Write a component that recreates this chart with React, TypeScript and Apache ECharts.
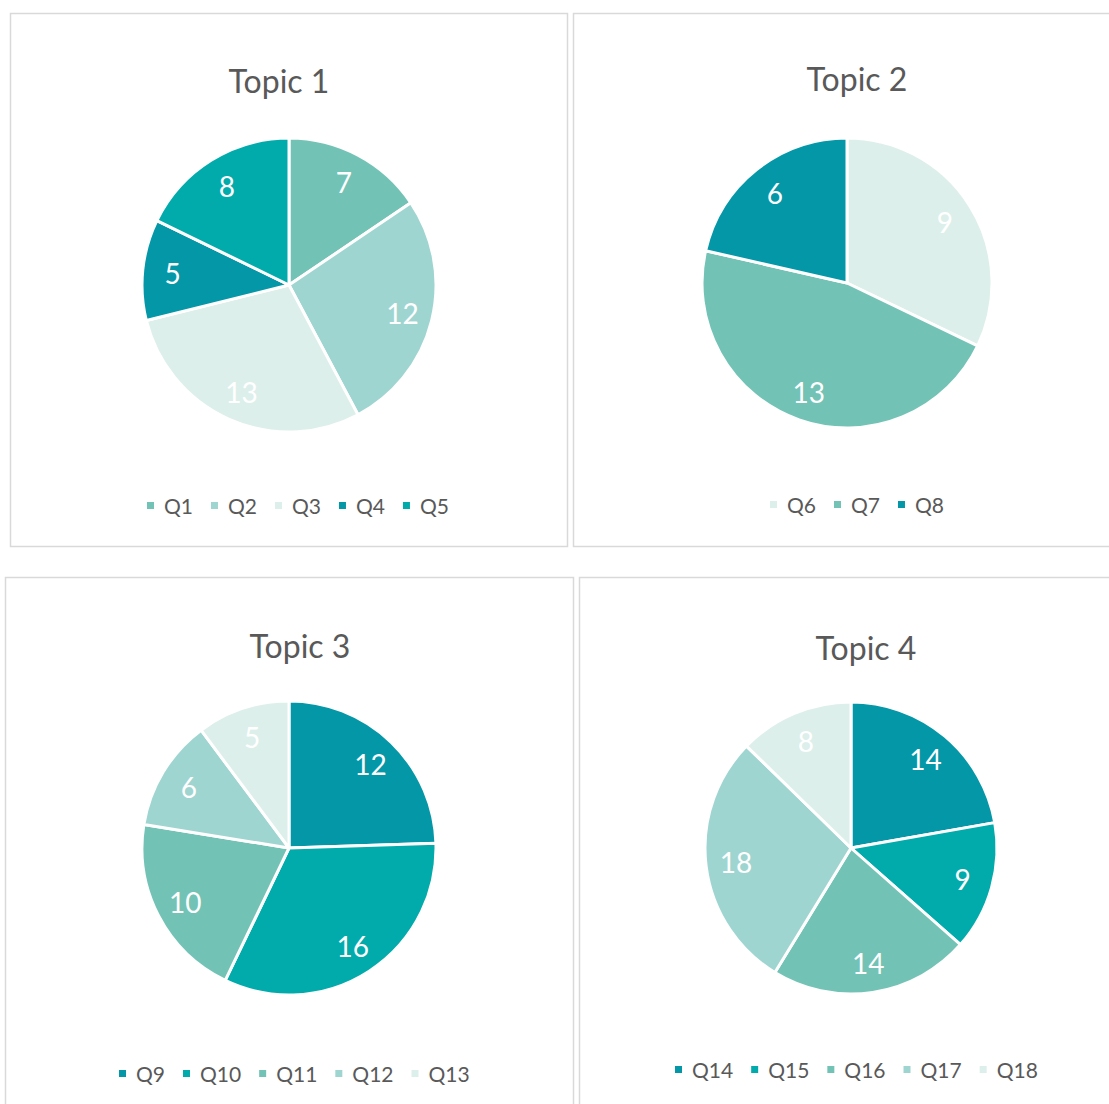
import React, { useEffect, useRef } from 'react';
import * as echarts from 'echarts';

const topicTitles = ['Topic 1', 'Topic 2', 'Topic 3', 'Topic 4'];

const topic1Names = ['Q1', 'Q2', 'Q3', 'Q4', 'Q5'];
const topic1Values = [7, 12, 13, 5, 8];

const topic2Names = ['Q6', 'Q7', 'Q8'];
const topic2Values = [9, 13, 6];

const topic3Names = ['Q9', 'Q10', 'Q11', 'Q12', 'Q13'];
const topic3Values = [12, 16, 10, 6, 5];

const topic4Names = ['Q14', 'Q15', 'Q16', 'Q17', 'Q18'];
const topic4Values = [14, 9, 14, 18, 8];

// style constants
const DARK = '#0397a8';
const TEAL = '#02abab';
const MID = '#72c3b5';
const LIGHT = '#9fd5d0';
const PALE = '#ddefea';

const topic1Colors = [MID, LIGHT, PALE, DARK, TEAL];
const topic2Colors = [PALE, MID, DARK];
const topic3Colors = [DARK, TEAL, MID, LIGHT, PALE];
const topic4Colors = [DARK, TEAL, MID, LIGHT, PALE];

const FONT = 'Lato, "Open Sans", sans-serif';
const TEXT = '#595959';

const panels = [
  { x: 10.5, y: 13.5, w: 557, h: 533 },
  { x: 573.5, y: 13.5, w: 545, h: 533 },
  { x: 5.5, y: 577.5, w: 568, h: 540 },
  { x: 579.5, y: 577.5, w: 545, h: 540 },
];
const pies = [
  { cx: 289, cy: 285, r: 147 },
  { cx: 847, cy: 283, r: 145 },
  { cx: 289, cy: 848, r: 147 },
  { cx: 851, cy: 848, r: 146 },
];
const titlePos = [
  { x: 279, y: 81 },
  { x: 857, y: 79 },
  { x: 300, y: 646 },
  { x: 866, y: 648 },
];
const legendPos = [
  { x: 145, y: 507 },
  { x: 768, y: 506 },
  { x: 117, y: 1075 },
  { x: 673, y: 1071 },
];

export default function App() {
  const ref = useRef<HTMLDivElement>(null);
  useEffect(() => {
    if (!ref.current) return;
    const chart = echarts.init(ref.current, undefined, { renderer: 'svg' });
    const groups = [
      { names: topic1Names, values: topic1Values, colors: topic1Colors },
      { names: topic2Names, values: topic2Values, colors: topic2Colors },
      { names: topic3Names, values: topic3Values, colors: topic3Colors },
      { names: topic4Names, values: topic4Values, colors: topic4Colors },
    ];
    const series: any[] = [];
    groups.forEach((g, i) => {
      const p = pies[i];
      const data = g.names.map((n, k) => ({
        name: n,
        value: g.values[k],
        itemStyle: { color: g.colors[k] },
      }));
      series.push({
        type: 'pie',
        name: topicTitles[i],
        center: [p.cx, p.cy],
        radius: [0, p.r],
        startAngle: 90,
        clockwise: true,
        data,
        label: { show: false },
        labelLine: { show: false },
        itemStyle: { borderColor: '#ffffff', borderWidth: 3 },
        emphasis: { disabled: true },
      });
      series.push({
        type: 'pie',
        name: topicTitles[i] + ' labels',
        center: [p.cx, p.cy],
        radius: [Math.round(p.r * 0.55), p.r],
        startAngle: 90,
        clockwise: true,
        silent: true,
        data: g.names.map((n, k) => ({ name: n, value: g.values[k] })),
        itemStyle: { color: 'rgba(0,0,0,0)', borderWidth: 0 },
        label: {
          show: true,
          position: 'inside',
          formatter: '{c}',
          color: '#ffffff',
          fontSize: 28,
          fontFamily: FONT,
        },
        labelLine: { show: false },
        emphasis: { disabled: true },
        legendHoverLink: false,
      });
    });
    chart.setOption({
      animation: false,
      backgroundColor: '#ffffff',
      title: topicTitles.map((t, i) => ({
        text: t,
        left: titlePos[i].x,
        top: titlePos[i].y - 17,
        textAlign: 'center',
        padding: 0,
        textStyle: { fontFamily: FONT, fontSize: 32, fontWeight: 'normal', color: TEXT },
      })),
      legend: groups.map((g, i) => ({
        data: g.names,
        orient: 'horizontal',
        left: legendPos[i].x,
        top: legendPos[i].y - 12,
        padding: 0,
        icon: 'rect',
        itemWidth: 9,
        itemHeight: 9,
        itemGap: 16,
        selectedMode: false,
        textStyle: { fontFamily: FONT, fontSize: 21, color: TEXT, padding: [0, 0, 0, 4] },
      })),
      graphic: panels.map((pn) => ({
        type: 'rect',
        shape: { x: pn.x, y: pn.y, width: pn.w, height: pn.h },
        style: { fill: 'none', stroke: '#d9d9d9', lineWidth: 1.5 },
        z: -1,
        silent: true,
      })),
      series,
    });
    return () => chart.dispose();
  }, []);
  return (
    <div style={{ position: 'fixed', left: 0, top: 0, width: 1109, height: 1104, overflow: 'hidden', background: '#fff' }}>
      <div ref={ref} style={{ width: 1109, height: 1104 }} />
    </div>
  );
}
